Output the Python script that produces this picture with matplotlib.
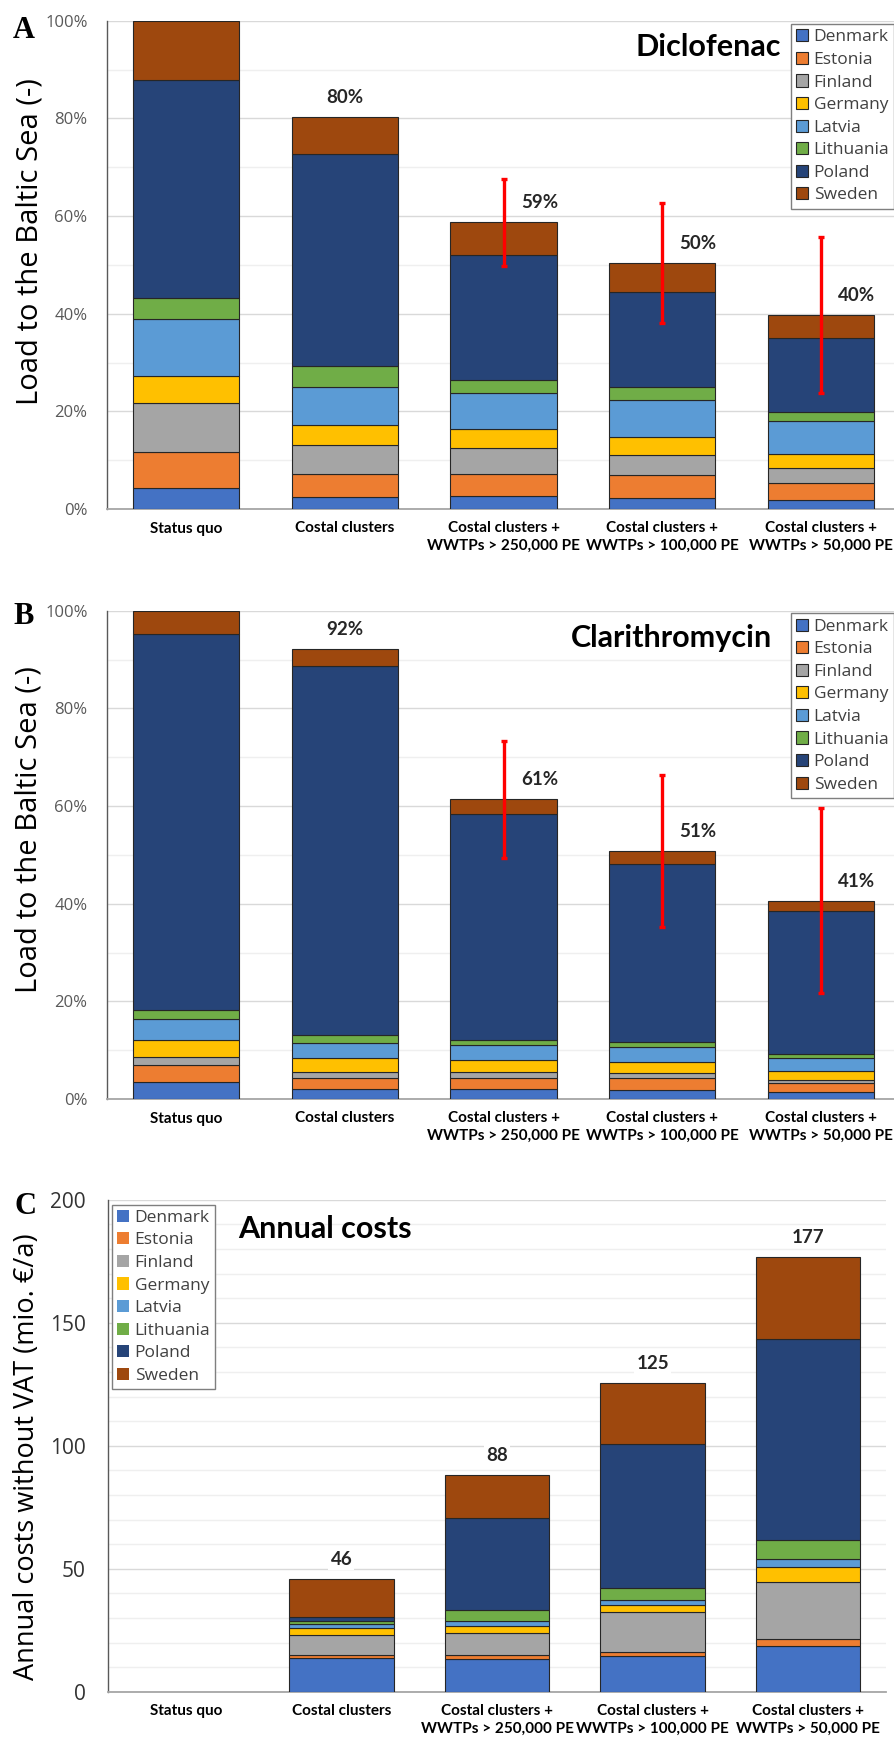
import numpy as np
import matplotlib
matplotlib.use("Agg")
import matplotlib.pyplot as plt
from matplotlib.ticker import MultipleLocator, FuncFormatter

plt.rcParams["font.family"] = ["Open Sans", "DejaVu Sans"]

scenarios = ["Status quo", "Costal clusters",
             "Costal clusters +\nWWTPs > 250,000 PE",
             "Costal clusters +\nWWTPs > 100,000 PE",
             "Costal clusters +\nWWTPs > 50,000 PE"]
countries = ["Denmark", "Estonia", "Finland", "Germany",
             "Latvia", "Lithuania", "Poland", "Sweden"]
colors = ["#4472C4", "#ED7D31", "#A5A5A5", "#FFC000",
          "#5B9BD5", "#70AD47", "#264478", "#9E480E"]

# Diclofenac load to the Baltic Sea (% of status quo)
dic_denmark = [4.4, 2.5, 2.6, 2.3, 1.8]
dic_estonia = [7.3, 4.7, 4.6, 4.7, 3.5]
dic_finland = [10.0, 6.0, 5.2, 4.1, 3.1]
dic_germany = [5.6, 4.0, 3.9, 3.7, 2.8]
dic_latvia = [11.6, 7.8, 7.5, 7.5, 6.8]
dic_lithuania = [4.4, 4.2, 2.6, 2.6, 1.8]
dic_poland = [44.5, 43.5, 25.6, 19.6, 15.3]
dic_sweden = [12.2, 7.6, 6.7, 5.8, 4.7]
dic_err = [8.9, 12.3, 16.0]

# Clarithromycin load to the Baltic Sea (% of status quo)
cla_denmark = [3.4, 2.05, 2.05, 1.8, 1.35]
cla_estonia = [3.5, 2.35, 2.35, 2.4, 1.95]
cla_finland = [1.7, 1.2, 1.1, 1.1, 0.65]
cla_germany = [3.5, 2.7, 2.4, 2.25, 1.75]
cla_latvia = [4.2, 3.1, 3.1, 3.05, 2.75]
cla_lithuania = [1.9, 1.7, 1.1, 1.0, 0.85]
cla_poland = [77.0, 75.6, 46.2, 36.5, 29.2]
cla_sweden = [4.8, 3.5, 3.1, 2.7, 2.1]
cla_err = [12.0, 15.5, 18.9]

# Annual costs without VAT (mio. EUR/a)
cost_denmark = [0, 13.6, 13.45, 14.65, 18.7]
cost_estonia = [0, 1.2, 1.35, 1.45, 2.8]
cost_finland = [0, 8.1, 9.2, 16.4, 23.0]
cost_germany = [0, 2.9, 2.9, 2.9, 6.0]
cost_latvia = [0, 1.6, 1.9, 2.0, 3.3]
cost_lithuania = [0, 1.3, 4.3, 4.6, 8.0]
cost_poland = [0, 1.5, 37.5, 58.9, 81.5]
cost_sweden = [0, 15.5, 17.6, 24.5, 33.5]

W, H = 894, 1745
fig = plt.figure(figsize=(W / 100, H / 100), dpi=100)


def fx(px):
    return px / W


def fy(py):
    return 1 - py / H


def stacked(ax, layers):
    x = np.arange(len(scenarios))
    bottom = np.zeros(len(scenarios))
    for name, vals, col in zip(countries, layers, colors):
        vals = np.array(vals, dtype=float)
        ax.bar(x, vals, 0.67, bottom=bottom, color=col, edgecolor="#262626",
               linewidth=np.where(vals > 0, 0.8, 0), label=name, zorder=3)
        bottom += vals
    return x, bottom


def style_axis(ax, ymax, major, minor, fmt, tick_size, tick_color, tick_pad):
    ax.set_xlim(-0.5, 4.5)
    ax.set_ylim(0, ymax)
    ax.yaxis.set_major_locator(MultipleLocator(major))
    ax.yaxis.set_minor_locator(MultipleLocator(minor))
    ax.yaxis.set_major_formatter(FuncFormatter(fmt))
    ax.set_axisbelow(True)
    ax.grid(which="major", axis="y", color="#d9d9d9", linewidth=1.0)
    ax.grid(which="minor", axis="y", color="#efefef", linewidth=1.0)
    ax.tick_params(which="both", length=0)
    ax.tick_params(axis="y", labelsize=tick_size, labelcolor=tick_color, pad=tick_pad)
    ax.tick_params(axis="x", pad=9)
    ax.set_xticks(np.arange(len(scenarios)))
    ax.set_xticklabels(scenarios, fontfamily="Lato", fontweight="bold",
                       fontsize=11, linespacing=1.3)
    for s in ["top", "right"]:
        ax.spines[s].set_visible(False)
    ax.spines["left"].set_color("#595959")
    ax.spines["left"].set_linewidth(1.0)
    ax.spines["bottom"].set_color("#a6a6a6")
    ax.spines["bottom"].set_linewidth(1.3)


def legend(ax, px, py):
    leg = ax.legend(loc="upper left", bbox_to_anchor=(fx(px), fy(py)),
                    bbox_transform=fig.transFigure, borderaxespad=0,
                    fontsize=12.5, frameon=True, fancybox=False, framealpha=1,
                    edgecolor="#7f7f7f", handlelength=0.7, handleheight=0.7,
                    handletextpad=0.3, labelspacing=0.37, borderpad=0.3)
    leg.get_frame().set_linewidth(1.0)
    for t in leg.get_texts():
        t.set_color("#404040")


def value_labels(ax, x, tops, labels, offsets):
    for xi, top, lab, dx in zip(x, tops, labels, offsets):
        ax.annotate(lab, (xi, top), xytext=(dx, 14), textcoords="offset points",
                    ha="center", va="center", fontfamily="Lato",
                    fontweight="bold", fontsize=13.5, color="#262626", zorder=6,
                    bbox=dict(facecolor="white", edgecolor="none", pad=1.5))


pct = lambda v, p: f"{v:.0f}%"
num = lambda v, p: f"{v:.0f}"

# ---- A: Diclofenac
axA = fig.add_axes([fx(107), fy(509), fx(793), 488.3 / H])
xA, topA = stacked(axA, [dic_denmark, dic_estonia, dic_finland, dic_germany,
                         dic_latvia, dic_lithuania, dic_poland, dic_sweden])
axA.errorbar(xA[2:], topA[2:], yerr=dic_err, fmt="none", ecolor="#ff0000",
             elinewidth=2.4, capsize=2.5, capthick=2.4, zorder=5)
style_axis(axA, 100, 20, 10, pct, 12, "#595959", 14)
legend(axA, 791, 24)
value_labels(axA, xA[1:], topA[1:], [f"{round(t)}%" for t in topA[1:]],
             [0, 26, 26, 26])

# ---- B: Clarithromycin
axB = fig.add_axes([fx(107), fy(1099), fx(793), 488.3 / H])
xB, topB = stacked(axB, [cla_denmark, cla_estonia, cla_finland, cla_germany,
                         cla_latvia, cla_lithuania, cla_poland, cla_sweden])
axB.errorbar(xB[2:], topB[2:], yerr=cla_err, fmt="none", ecolor="#ff0000",
             elinewidth=2.4, capsize=2.5, capthick=2.4, zorder=5)
style_axis(axB, 100, 20, 10, pct, 12, "#595959", 14)
legend(axB, 791, 613.4)
value_labels(axB, xB[1:], topB[1:], [f"{round(t)}%" for t in topB[1:]],
             [0, 26, 26, 26])

# ---- C: Annual costs
axC = fig.add_axes([fx(108), fy(1691.7), fx(778), 491.9 / H])
xC, topC = stacked(axC, [cost_denmark, cost_estonia, cost_finland, cost_germany,
                         cost_latvia, cost_lithuania, cost_poland, cost_sweden])
style_axis(axC, 200, 50, 10, num, 15, "#333333", 16)
legend(axC, 112, 1204.5)
value_labels(axC, xC[1:], topC[1:], [f"{round(t)}" for t in topC[1:]],
             [0, 0, 0, 0])

# titles, axis labels and panel letters
fig.text(fx(708), fy(47), "Diclofenac", ha="center", va="center",
         fontfamily="Lato", fontweight="bold", fontsize=22)
fig.text(fx(671), fy(638), "Clarithromycin", ha="center", va="center",
         fontfamily="Lato", fontweight="bold", fontsize=22)
fig.text(fx(325), fy(1228.6), "Annual costs", ha="center", va="center",
         fontfamily="Lato", fontweight="bold", fontsize=22)

fig.text(fx(30), fy(241.5), "Load to the Baltic Sea (-)", rotation=90,
         ha="center", va="center", fontsize=21, color="#000000")
fig.text(fx(29), fy(830), "Load to the Baltic Sea (-)", rotation=90,
         ha="center", va="center", fontsize=21, color="#000000")
fig.text(fx(27), fy(1456.5), "Annual costs without VAT (mio. €/a)", rotation=90,
         ha="center", va="center", fontsize=19.5, color="#000000")

for letter, px, py in [("A", 24, 31), ("B", 24, 616), ("C", 25, 1206)]:
    fig.text(fx(px), fy(py), letter, ha="center", va="center",
             fontfamily="Liberation Serif", fontweight="bold", fontsize=22)

fig.savefig("out.png", dpi=100)
